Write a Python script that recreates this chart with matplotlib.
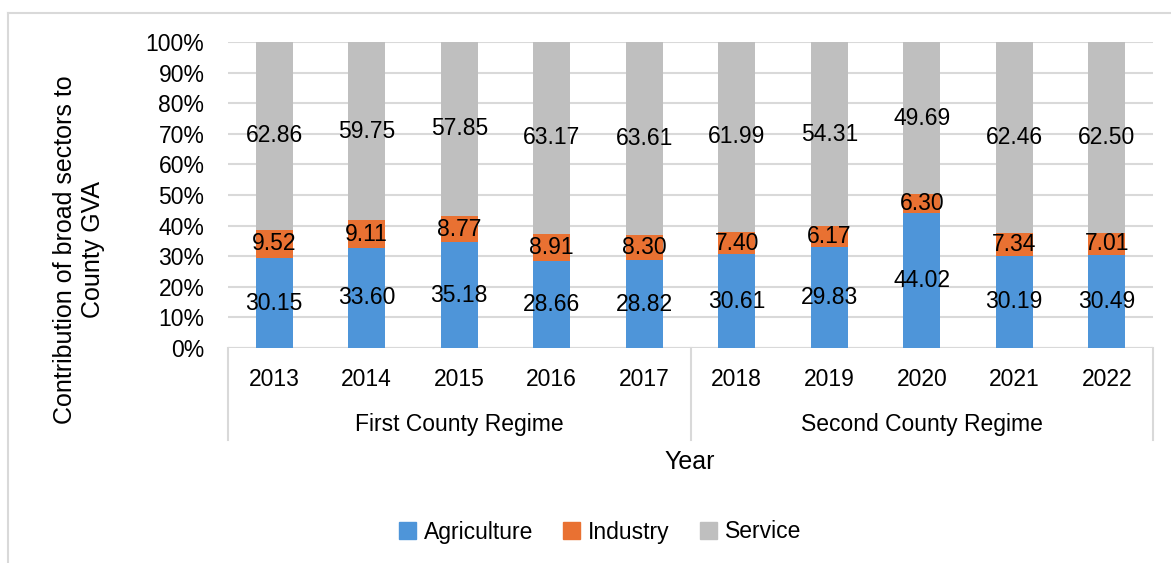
import numpy as np
import matplotlib.pyplot as plt
from matplotlib.lines import Line2D
from matplotlib.patches import Patch
import matplotlib.transforms as mtransforms

plt.rcParams['font.family'] = ['Liberation Sans', 'DejaVu Sans']

years = ['2013', '2014', '2015', '2016', '2017', '2018', '2019', '2020', '2021', '2022']
regimes = ['First County Regime', 'Second County Regime']
regime_size = [5, 5]
agriculture = [30.15, 33.60, 35.18, 28.66, 28.82, 30.61, 29.83, 44.02, 30.19, 30.49]
industry = [9.52, 9.11, 8.77, 8.91, 8.30, 7.40, 6.17, 6.30, 7.34, 7.01]
service = [62.86, 59.75, 57.85, 63.17, 63.61, 61.99, 54.31, 49.69, 62.46, 62.50]

series = [('Agriculture', agriculture, '#4E95D9'),
          ('Industry', industry, '#E97132'),
          ('Service', service, '#BFBFBF')]

W, H = 1171, 563
fig = plt.figure(figsize=(W / 100, H / 100), dpi=100)
ax = fig.add_axes([228 / W, 1 - 348 / H, (1153 - 228) / W, (348 - 42) / H])

x = np.arange(len(years))
totals = np.array(agriculture) + np.array(industry) + np.array(service)
bottom = np.zeros(len(years))
for name, vals, col in series:
    share = np.array(vals) / totals
    ax.bar(x, share, 0.4, bottom=bottom, color=col, zorder=3)
    for i, v in enumerate(vals):
        ax.text(x[i], bottom[i] + share[i] / 2, f'{v:.2f}', ha='center', va='center',
                fontsize=16.5, color='#000000', zorder=4)
    bottom += share

ax.set_xlim(-0.5, len(years) - 0.5)
ax.set_ylim(0, 1)
ax.set_yticks(np.arange(0, 1.01, 0.1))
ax.set_yticklabels([f'{int(round(t * 100))}%' for t in np.arange(0, 1.01, 0.1)])
ax.tick_params(axis='y', length=0, pad=17, labelsize=16.5, labelcolor='#000000')
ax.set_xticks([])
ax.grid(axis='y', color='#D9D9D9', lw=1.5, zorder=0)
for s in ax.spines.values():
    s.set_visible(False)
ax.axhline(0, color='#D9D9D9', lw=1.5, zorder=2)

# two-level category axis
trans = mtransforms.blended_transform_factory(ax.transData, ax.transAxes)
px = 1 / (348 - 42)
for i, y in enumerate(years):
    ax.text(x[i], -32 * px, y, transform=trans, ha='center', va='center', fontsize=16.5)
start = 0
edges = [-0.5]
for name, n in zip(regimes, regime_size):
    mid = start + (n - 1) / 2
    ax.text(mid, -77 * px, name, transform=trans, ha='center', va='center', fontsize=16.5)
    start += n
    edges.append(start - 0.5)
for e in edges:
    ax.add_line(Line2D([e, e], [0, -92 * px], transform=trans, color='#D9D9D9',
                       lw=1.5, clip_on=False))

fig.text(690 / W, 1 - 462 / H, 'Year', ha='center', va='center', fontsize=18)
fig.text(79 / W, 1 - 250 / H, 'Contribution of broad sectors to\nCounty GVA', rotation=90,
         ha='center', va='center', fontsize=18, linespacing=1.25)

handles = [Patch(color=c, label=n) for n, v, c in series]
fig.legend(handles=handles, loc='center', bbox_to_anchor=(600 / W, 1 - 532 / H), ncol=3,
           frameon=False, fontsize=16.5, handlelength=0.75, handleheight=0.75,
           handletextpad=0.35, columnspacing=1.3)

# outer chart frame
fig.add_artist(Line2D([8 / W, 8 / W], [0, 1 - 13 / H], color='#D9D9D9', lw=1.5))
fig.add_artist(Line2D([8 / W, 1], [1 - 13 / H, 1 - 13 / H], color='#D9D9D9', lw=1.5))

fig.savefig('out.png', dpi=100)
